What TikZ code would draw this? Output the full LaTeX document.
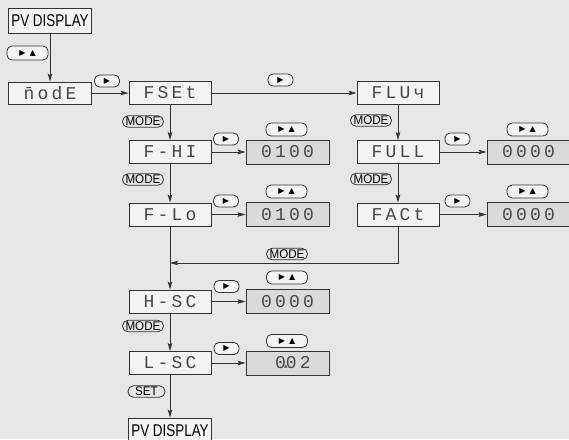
\documentclass[tikz,border=0pt]{standalone}
\usepackage{fontspec}
\setmainfont{Liberation Sans}
\newfontfamily\segfont[LetterSpace=18]{Liberation Mono}
\newfontfamily\pvfont[FakeStretch=0.79]{Liberation Sans}
\newfontfamily\keyfont[FakeStretch=0.93]{Liberation Sans}
\newfontfamily\symfont{DejaVu Sans}
\usetikzlibrary{arrows.meta}
\definecolor{bg}{RGB}{230,230,232}
\definecolor{stepfill}{RGB}{243,243,243}
\definecolor{valfill}{RGB}{218,218,220}
\definecolor{ink}{RGB}{51,51,51}
\definecolor{segink}{RGB}{70,70,70}
\tikzset{
  stepbox/.style={draw=ink, line width=0.9pt, fill=stepfill, minimum width=82pt,
    minimum height=23pt, inner sep=0pt, text=segink, font=\segfont\fontsize{18}{18}\selectfont},
  valbox/.style={stepbox, fill=valfill, minimum width=83pt, minimum height=24pt},
  pvbox/.style={draw=ink, line width=0.9pt, fill=stepfill, minimum width=83pt,
    minimum height=25pt, inner sep=0pt, text=black, font=\pvfont\fontsize{17}{17}\selectfont},
  btn/.style={draw=ink, line width=0.8pt, fill=stepfill, rounded corners=5pt,
    minimum width=25pt, minimum height=12pt, inner sep=0pt, text=black,
    font=\symfont\fontsize{8}{8}\selectfont},
  btntwo/.style={btn, minimum width=41pt, minimum height=13pt},
  keylab/.style={draw=ink, line width=0.8pt, rounded corners=5.5pt, minimum width=41pt,
    minimum height=11.5pt, inner sep=0pt, text=black, font=\keyfont\fontsize{12.5}{12.5}\selectfont},
  arr/.style={draw=ink, line width=0.8pt, -{Stealth[length=8pt,width=4.5pt,inset=1.5pt]}},
  ln/.style={draw=ink, line width=0.8pt}
}
\newcommand{\rt}{▶}
\newcommand{\rtup}{▶\hspace{4pt}▲}
\begin{document}
\begin{tikzpicture}[x=1pt,y=-1pt]
\fill[bg] (0,0) rectangle (569,439);
\useasboundingbox (0,0) rectangle (569,439);
\clip (0,0) rectangle (569,439);

% step boxes
\node[pvbox] (pv1) at (50,20.5) {PV DISPLAY};
\node[stepbox, minimum width=83pt, minimum height=22pt] (mode) at (50,93) {\={n}odE};
\node[stepbox] (fset) at (170,93) {FSEt};
\node[stepbox] (flux) at (398,93) {FLUч};
\node[stepbox] (fhi) at (170,152) {F-HI};
\node[stepbox] (full) at (398,152) {FULL};
\node[stepbox] (flo) at (170,214.5) {F-Lo};
\node[stepbox] (fact) at (398,214.5) {FACt};
\node[stepbox] (hsc) at (170,301.5) {H-SC};
\node[stepbox] (lsc) at (170,363) {L-SC};
\node[pvbox] (pv2) at (170,430.5) {PV DISPLAY};

% value boxes
\node[valbox] (v1) at (287.5,152) {0100};
\node[valbox] (v2) at (287.5,214.5) {0100};
\node[valbox] (v3) at (528.5,152) {0000};
\node[valbox] (v4) at (528.5,214.5) {0000};
\node[valbox] (v5) at (287.5,301.5) {0000};
\node[valbox] (v6) at (287.5,363) {\phantom{0}0\makebox[0pt]{.}02};

% buttons
\node[btntwo, minimum height=14pt] (b1) at (27.5,53) {\rtup};
\node[btn] (b2) at (107,81) {\rt};
\node[btn] (b3) at (280.5,80) {\rt};
\node[btn] (b4) at (226,139) {\rt};
\node[btntwo] (b5) at (286.5,129.5) {\rtup};
\node[btn] (b6) at (226,201) {\rt};
\node[btntwo] (b7) at (286.5,191.5) {\rtup};
\node[btn] (b8) at (457.5,139) {\rt};
\node[btntwo] (b9) at (527.5,129.5) {\rtup};
\node[btn] (b10) at (457.5,201) {\rt};
\node[btntwo] (b11) at (527.5,191.5) {\rtup};
\node[btn] (b12) at (226.5,286.5) {\rt};
\node[btntwo] (b13) at (287,277.5) {\rtup};
\node[btn] (b14) at (226.5,348.5) {\rt};
\node[btntwo] (b15) at (287,341) {\rtup};

% key labels
\node[keylab] (m1) at (143,121.5) {MODE};
\node[keylab] (m2) at (143,179.5) {MODE};
\node[keylab] (m3) at (371,120.5) {MODE};
\node[keylab] (m4) at (371,179) {MODE};
\node[keylab] (m5) at (287,254) {MODE};
\node[keylab] (m6) at (143,326) {MODE};
\node[keylab, minimum width=37pt] (set) at (146.5,391.5) {SET};

% connectors
\draw[arr] (pv1) -- (mode);
\draw[arr] (mode) -- (fset);
\draw[arr] (fset) -- (flux);
\draw[arr] (fset) -- (fhi);
\draw[arr] (fhi) -- (flo);
\draw[arr] (flo) -- (hsc);
\draw[arr] (flux) -- (full);
\draw[arr] (full) -- (fact);
\coordinate (j) at (170,263);
\draw[arr] (fact.south) |- (j);
\draw[arr] (hsc) -- (lsc);
\draw[arr] (lsc) -- (pv2);
\draw[arr] (fhi) -- (v1);
\draw[arr] (flo) -- (v2);
\draw[arr] (full) -- (v3);
\draw[arr] (fact) -- (v4);
\draw[arr] (hsc) -- (v5);
\draw[arr] (lsc) -- (v6);
\end{tikzpicture}
\end{document}
